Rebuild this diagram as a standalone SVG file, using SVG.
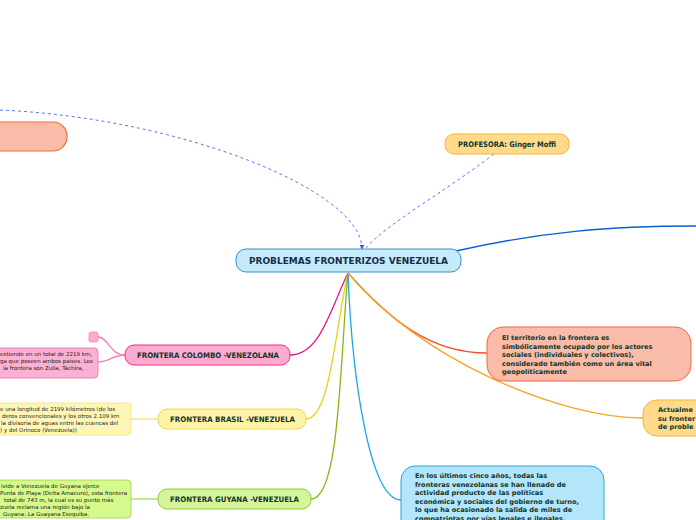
<svg xmlns="http://www.w3.org/2000/svg" width="696" height="520" viewBox="0 0 696 520">
<style>
.t{font-family:"DejaVu Sans","Verdana",sans-serif;font-weight:bold;fill:#12352a}
.h{font-size:7.6px}
.b{font-size:6.6px}
.s{font-family:"DejaVu Sans","Verdana",sans-serif;font-size:5.5px;fill:#222}
.c{fill:none;stroke-width:1.3}
.d{fill:none;stroke:#5a78ee;stroke-width:1;stroke-dasharray:3,3}
</style>
<defs>
<marker id="ar" viewBox="0 0 6 6" refX="5" refY="3" markerWidth="5" markerHeight="5" orient="auto"><path d="M0,0L6,3L0,6z" fill="#3a5ae0"/></marker>
</defs>
<g id="connectors">
<path class="d" d="M0,110 C180,118 362,190 362,249" marker-end="url(#ar)"/>
<path class="d" d="M494,154 C440,195 385,225 365,249"/>
<path class="c" stroke="#0a5fcf" d="M456,251 C540,232 610,226 696,226"/>
<path class="c" stroke="#e8197a" d="M348,273 C330,310 320,355 290,355"/>
<path class="c" stroke="#e6d21a" d="M348,273 C335,330 330,419 306,419"/>
<path class="c" stroke="#8ab51a" d="M348,273 C340,360 340,499 311,499"/>
<path class="c" stroke="#1aa7e8" d="M348,273 C352,380 370,500 401,500"/>
<path class="c" stroke="#f0542a" d="M348,273 C390,320 430,353 487,353"/>
<path class="c" stroke="#f5a623" d="M348,273 C420,360 560,418 643,418"/>
<path class="c" stroke="#f47fb5" stroke-width="1" d="M125,355 C110,355 108,337 98,337"/>
<path class="c" stroke="#f47fb5" stroke-width="1" d="M125,355 C112,355 110,362 98,362"/>
<path class="c" stroke="#f0e27a" stroke-width="1" d="M158,419 L131,419"/>
<path class="c" stroke="#a6d84e" stroke-width="1" d="M158,499 L131,499"/>
</g>
<g id="n-topleft"><rect x="-20" y="122" width="87" height="29" rx="14" fill="#f9bca8" stroke="#f06a3c" stroke-width="1.2"/></g>
<g id="n-profesora"><rect x="445" y="134" width="124" height="20" rx="9" fill="#ffda8a" stroke="#f5b32f" stroke-width="1"/><text class="t h" x="458" y="147" textLength="98" lengthAdjust="spacingAndGlyphs">PROFESORA: Ginger Moffi</text></g>
<g id="n-central"><rect x="236" y="249" width="225" height="23" rx="10" fill="#c5ebfb" stroke="#3b8fd0" stroke-width="1"/><text class="t" x="249" y="264" font-size="8.6" style="fill:#1a2a4a" textLength="199" lengthAdjust="spacingAndGlyphs">PROBLEMAS FRONTERIZOS VENEZUELA</text></g>
<g id="n-colombo"><rect x="125" y="345" width="165" height="20" rx="9" fill="#fbaad0" stroke="#ef2f86" stroke-width="1"/><text class="t h" x="137" y="358" textLength="142" lengthAdjust="spacingAndGlyphs">FRONTERA COLOMBO -VENEZOLANA</text></g>
<g id="n-colombo-small"><rect x="89" y="332" width="9" height="10" rx="2" fill="#fbaad0" stroke="#f47fb5" stroke-width="0.8"/></g>
<g id="n-colombo-text"><rect x="-10" y="348" width="108" height="30" rx="4" fill="#fbb1d3" stroke="#f06aa9" stroke-width="0.8"/>
<text class="s" x="0" y="356">extiende en un total de 2219 km,</text>
<text class="s" x="0" y="363">ga que poseen ambos países. Los</text>
<text class="s" x="3" y="370">la frontera son Zulia, Táchira,</text></g>
<g id="n-brasil"><rect x="158" y="409" width="148" height="20" rx="9" fill="#fff3a8" stroke="#f0d848" stroke-width="1"/><text class="t h" x="170" y="422" textLength="125" lengthAdjust="spacingAndGlyphs">FRONTERA BRASIL -VENEZUELA</text></g>
<g id="n-brasil-text"><rect x="-10" y="403" width="141" height="32" rx="4" fill="#fff6b5" stroke="#f5e27a" stroke-width="0.8"/>
<text class="s" x="0" y="411">e una longitud de 2199 kilómetros (de los</text>
<text class="s" x="2" y="418">deros convencionales y los otros 2.109 km</text>
<text class="s" x="1" y="425">la divisoria de aguas entre las cuencas del</text>
<text class="s" x="0" y="432">) y del Orinoco (Venezuela))</text></g>
<g id="n-guyana"><rect x="158" y="489" width="153" height="20" rx="9" fill="#d6f59a" stroke="#8ecb2a" stroke-width="1"/><text class="t h" x="170" y="502" textLength="129" lengthAdjust="spacingAndGlyphs">FRONTERA GUYANA -VENEZUELA</text></g>
<g id="n-guyana-text"><rect x="-10" y="480" width="141" height="38" rx="4" fill="#d5f98a" stroke="#9ad34a" stroke-width="0.8"/>
<text class="s" x="1" y="488">ivide a Venezuela de Guyana ejerce</text>
<text class="s" x="0" y="495">Punta de Playa (Delta Amacuro), esta frontera</text>
<text class="s" x="4" y="502">total de 743 m, la cual es su punto más</text>
<text class="s" x="0" y="509">zuela reclama una región bajo la</text>
<text class="s" x="3" y="516">Guyana: La Guayana Esequiba.</text></g>
<g id="n-territorio"><rect x="487" y="327" width="204" height="54" rx="16" fill="#f9bca8" stroke="#f06a3c" stroke-width="1"/>
<text class="t b" x="502" y="340">El territorio en la frontera es</text>
<text class="t b" x="502" y="348.5">simbólicamente ocupado por los actores</text>
<text class="t b" x="502" y="357">sociales (individuales y colectivos),</text>
<text class="t b" x="502" y="365.5">considerado también como un área vital</text>
<text class="t b" x="502" y="374">geopolíticamente</text></g>
<g id="n-actualmente"><rect x="643" y="400" width="70" height="36" rx="14" fill="#ffda8a" stroke="#f5b32f" stroke-width="1"/>
<text class="t b" x="658" y="412">Actualme</text>
<text class="t b" x="658" y="420.5">su fronter</text>
<text class="t b" x="658" y="429">de proble</text></g>
<g id="n-ultimos"><rect x="401" y="466" width="203" height="70" rx="14" fill="#b3e5fb" stroke="#2aa4e0" stroke-width="1"/>
<text class="t b" x="415" y="478">En los últimos cinco años, todas las</text>
<text class="t b" x="415" y="486.5">fronteras venezolanas se han llenado de</text>
<text class="t b" x="415" y="495">actividad producto de las políticas</text>
<text class="t b" x="415" y="503.5">económica y sociales del gobierno de turno,</text>
<text class="t b" x="415" y="512">lo que ha ocasionado la salida de miles de</text>
<text class="t b" x="415" y="520.5">compatriotas por vías legales e ilegales.</text></g>
</svg>
